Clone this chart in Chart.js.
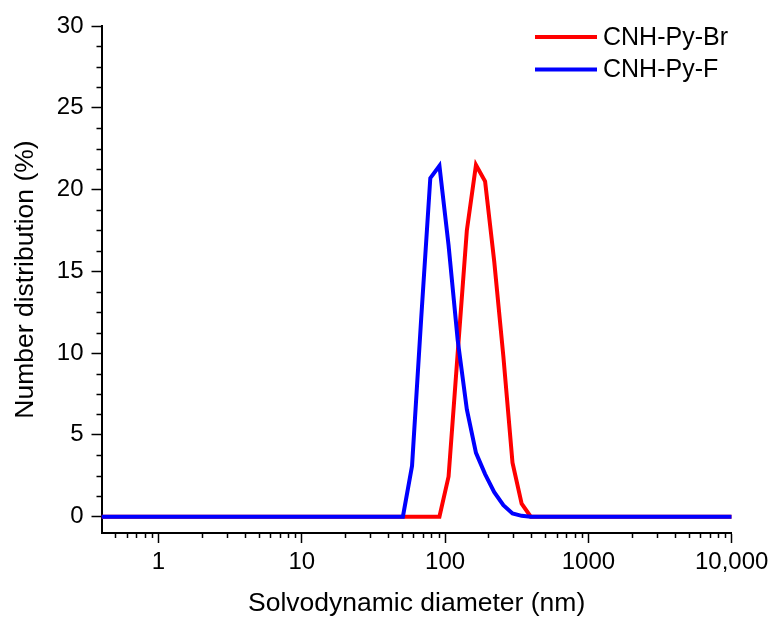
<!DOCTYPE html>
<html>
<head>
<meta charset="utf-8">
<script src="https://cdn.jsdelivr.net/npm/chart.js@4"></script>
<style>
  body { margin: 0; background: #fff; }
  #wrap { width: 769px; height: 617px; }
</style>
</head>
<body>
<div id="wrap"><canvas id="myChart" width="769" height="617"></canvas></div>
<script>
// size bins (nm) and number distribution (%)
const sizes = [0.4, 50.75, 58.77, 68.06, 78.82, 91.28, 105.7, 122.4, 141.8, 164.2, 190.1, 220.2, 255.0, 295.3, 342.0, 396.1, 10000];
const brValues = [0, 0, 0, 0, 0, 0, 2.45, 10.0, 17.5, 21.5, 20.5, 15.6, 9.8, 3.3, 0.8, 0, 0];
const fValues = [0, 0, 3.1, 12.1, 20.7, 21.45, 16.6, 10.8, 6.55, 3.9, 2.6, 1.5, 0.7, 0.2, 0.05, 0, 0];

const xMajor = [1, 10, 100, 1000, 10000];
const yMajor = [0, 5, 10, 15, 20, 25, 30];

const FONT = "'Liberation Sans', Arial, sans-serif";

function toPoints(vals) {
    let pts = [];
    sizes.forEach((s, i) => pts.push({ x: s, y: vals[i] }));
    return pts;
}

// small ticks between the labelled ones + legend inside the plot
const extras = {
    id: 'extras',
    afterDraw(chart) {
        const ctx = chart.ctx;
        const xs = chart.scales.x;
        const ys = chart.scales.y;
        const area = chart.chartArea;
        ctx.save();
        ctx.strokeStyle = '#000';
        ctx.lineWidth = 1.5;
        ctx.beginPath();
        for (let d = -1; d <= 3; d++) {
            for (let m = 2; m <= 9; m++) {
                let v = m * Math.pow(10, d);
                if (v <= xs.min || v >= xs.max) continue;
                let px = Math.round(xs.getPixelForValue(v)) + 0.5;
                ctx.moveTo(px, area.bottom);
                ctx.lineTo(px, area.bottom + 5);
            }
        }
        for (let v = 0; v < 30; v += 1.25) {
            if (v % 5 === 0) continue;
            let py = Math.round(ys.getPixelForValue(v)) + 0.5;
            ctx.moveTo(area.left, py);
            ctx.lineTo(area.left - 5, py);
        }
        ctx.stroke();

        // legend
        ctx.font = '25px ' + FONT;
        ctx.textBaseline = 'middle';
        ctx.fillStyle = '#000';
        chart.data.datasets.forEach((ds, i) => {
            let y = 37 + i * 32.5;
            ctx.strokeStyle = ds.borderColor;
            ctx.lineWidth = 4;
            ctx.beginPath();
            ctx.moveTo(535, y);
            ctx.lineTo(597, y);
            ctx.stroke();
            ctx.fillText(ds.label, 603, y + 1);
        });
        ctx.restore();
    }
};

const dataset = {
    datasets: [{
        label: 'CNH-Py-Br',
        data: toPoints(brValues),
        borderColor: '#ff0000',
        backgroundColor: '#ff0000',
        borderWidth: 4,
        pointRadius: 0,
        order: 1
    }, {
        label: 'CNH-Py-F',
        data: toPoints(fValues),
        borderColor: '#0000ff',
        backgroundColor: '#0000ff',
        borderWidth: 4,
        pointRadius: 0,
        order: 0
    }]
};

const config = {
    type: 'line',
    data: dataset,
    plugins: [extras],
    options: {
        responsive: false,
        animation: false,
        devicePixelRatio: 1,
        layout: { padding: { left: 0, top: 26, right: 37.3, bottom: 0 } },
        plugins: {
            legend: { display: false },
            tooltip: { enabled: false }
        },
        scales: {
            x: {
                type: 'logarithmic',
                min: 0.4,
                max: 10000,
                afterBuildTicks: (scale) => { scale.ticks = xMajor.map(v => ({ value: v, major: true })); },
                afterFit: (scale) => { scale.height = 84; scale.paddingRight = 0; },
                grid: { drawOnChartArea: false, tickLength: 10, tickWidth: 1.5, tickColor: '#000' },
                border: { color: '#000', width: 2 },
                ticks: {
                    autoSkip: false,
                    maxRotation: 0,
                    padding: 5,
                    color: '#000',
                    font: { family: FONT, size: 24 },
                    callback: (v) => v >= 10000 ? '10,000' : String(v)
                },
                title: {
                    display: true,
                    text: 'Solvodynamic diameter (nm)',
                    color: '#000',
                    font: { family: FONT, size: 26.5, lineHeight: 1.0 },
                    padding: { top: 0, bottom: 0 }
                }
            },
            y: {
                min: -1,
                max: 30,
                afterBuildTicks: (scale) => { scale.ticks = yMajor.map(v => ({ value: v })); },
                afterFit: (scale) => { scale.width = 101.5; },
                grid: { drawOnChartArea: false, tickLength: 10, tickWidth: 1.5, tickColor: '#000' },
                border: { color: '#000', width: 2 },
                ticks: {
                    padding: 8,
                    color: '#000',
                    font: { family: FONT, size: 24 }
                },
                title: {
                    display: true,
                    text: 'Number distribution (%)',
                    color: '#000',
                    font: { family: FONT, size: 26.5, lineHeight: 1.2 },
                    padding: { top: 10, bottom: 0 }
                }
            }
        }
    }
};

const myChart = new Chart(document.getElementById('myChart'), config);
</script>
</body>
</html>
